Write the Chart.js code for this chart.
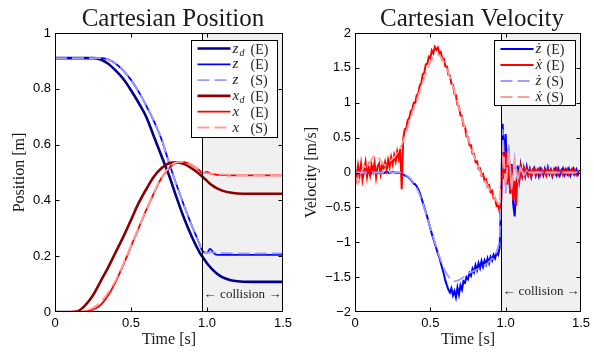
<!DOCTYPE html>
<html><head><meta charset="utf-8">
<script src="https://cdn.jsdelivr.net/npm/chart.js@4.4.1/dist/chart.umd.min.js"></script>
<style>
html,body{margin:0;padding:0;background:#fff;}
#wrap{position:relative;width:594px;height:352px;overflow:hidden;}
canvas{position:absolute;top:0;}
</style></head>
<body><div id="wrap"><canvas id="c1" width="297" height="352" style="left:0"></canvas><canvas id="c2" width="297" height="352" style="left:297px"></canvas></div>
<script>
// ---------- DATA ----------
const collisionT = 0.967;

// Position plot (time in s, position in m)
const tPos = [0,0.05,0.1,0.15,0.2,0.25,0.3,0.35,0.4,0.45,0.5,0.55,0.6,0.65,0.7,0.75,0.8,0.85,0.9,0.95,0.97,1.0,1.02,1.04,1.06,1.1,1.15,1.2,1.3,1.4,1.5];
const zdE = [0.91,0.91,0.91,0.91,0.91,0.91,0.905,0.89,0.865,0.835,0.795,0.75,0.70,0.63,0.56,0.49,0.41,0.335,0.27,0.215,0.198,0.175,0.162,0.15,0.14,0.125,0.115,0.11,0.108,0.108,0.108];
const zE  = [0.91,0.91,0.91,0.91,0.91,0.91,0.91,0.905,0.89,0.865,0.832,0.79,0.74,0.685,0.62,0.535,0.455,0.38,0.31,0.245,0.218,0.212,0.226,0.214,0.206,0.205,0.205,0.205,0.205,0.205,0.205];
const zS  = [0.91,0.91,0.91,0.91,0.91,0.91,0.91,0.905,0.89,0.865,0.832,0.79,0.74,0.685,0.62,0.535,0.455,0.38,0.31,0.245,0.22,0.212,0.213,0.214,0.213,0.212,0.211,0.21,0.21,0.21,0.21];
const xdE = [0,0,0,0.003,0.025,0.06,0.11,0.16,0.215,0.27,0.33,0.39,0.44,0.485,0.515,0.533,0.537,0.53,0.515,0.495,0.485,0.47,0.46,0.452,0.445,0.435,0.428,0.425,0.424,0.424,0.424];
const xE  = [0,0,0,0,0.002,0.008,0.025,0.06,0.11,0.17,0.235,0.30,0.365,0.425,0.48,0.515,0.535,0.537,0.527,0.508,0.498,0.502,0.497,0.494,0.492,0.491,0.49,0.49,0.49,0.49,0.49];
const xS  = [0,0,0,0,0.005,0.015,0.035,0.07,0.115,0.172,0.237,0.302,0.367,0.427,0.482,0.517,0.537,0.538,0.528,0.51,0.5,0.497,0.496,0.495,0.494,0.493,0.492,0.491,0.49,0.49,0.49];

// Velocity plot: experiment sampled every 0.01 s, simulation every 0.02 s
const tVelE = Array.from({length:151},(_,i)=>+(i*0.01).toFixed(2));
const tVelS = Array.from({length:76},(_,i)=>+(i*0.02).toFixed(2));
const dzE = [0,0.01,-0.01,0,0.01,0,-0.01,0.01,0,0, 0.01,-0.01,0,0.01,0,-0.01,0,0.01,0,-0.01, 0,0.01,0,-0.01,0,0.01,0,0,-0.01,0,
 -0.01,-0.02,-0.03,-0.04,-0.05,-0.06,-0.08,-0.10,-0.13,-0.16,
 -0.17,-0.20,-0.24,-0.29,-0.36,-0.43,-0.50,-0.57,-0.64,-0.72,
 -0.80,-0.88,-0.95,-1.02,-1.09,-1.16,-1.22,-1.30,-1.38,-1.46,
 -1.55,-1.62,-1.68,-1.72,-1.66,-1.76,-1.70,-1.79,-1.65,-1.75,
 -1.62,-1.68,-1.56,-1.58,-1.50,-1.53,-1.44,-1.48,-1.38,-1.43,
 -1.33,-1.40,-1.30,-1.37,-1.27,-1.35,-1.26,-1.32,-1.23,-1.30,
 -1.21,-1.26,-1.18,-1.23,-1.15,-1.18,-1.08,
 -0.40,0.70,0.15,0.55,-0.10,0.35,-0.30,0.12,-0.45,-0.63,-0.20,0.10,-0.12,0.10,
 -0.04,0.06,-0.05,0.08,-0.03,0.05,-0.06,0.04,0.07,-0.04, 0.03,-0.05,0.06,0.02,-0.04,0.05,-0.03,0.07,-0.02,0.04,
 -0.05,0.03,0.06,-0.03,0.05,-0.04,0.02,0.06,-0.03,0.04, -0.02,0.05,-0.04,0.03,0.06,-0.02,0.04,-0.03,0.02,0.03];
const dxE = [0.05,-0.08,0.10,-0.05,0.12,-0.10,0.03,0.15,-0.06,0.08, -0.04,0.11,0.02,0.14,-0.07,0.09,0.13,-0.02,0.10,0.06, 0.15,0.04,0.18,0.08,0.22,0.12,0.25,0.16,0.30,0.20,
 0.34,-0.24,0.48,0.62,0.63,0.75,0.78,0.88,0.90,1.00,
 1.00,1.11,1.13,1.25,1.28,1.41,1.43,1.55,1.56,1.66,
 1.64,1.75,1.71,1.80,1.76,1.79,1.71,1.73,1.62,1.63,
 1.52,1.52,1.40,1.39,1.27,1.26,1.13,1.11,0.97,0.95,
 0.82,0.81,0.67,0.66,0.52,0.51,0.39,0.39,0.27,0.27,
 0.15,0.16,0.05,0.06,-0.04,-0.02,-0.12,-0.10,-0.20,-0.18,
 -0.28,-0.26,-0.37,-0.37,-0.48,-0.47,-0.56,-0.40,0.45,-0.10,
 0.30,-0.18,0.15,-0.30,0.10,-0.40,-0.12,-0.48,0.05,-0.12,
 0.08,-0.05,0.06,-0.04,0.05,-0.03,0.04,-0.05,0.03,0.06, -0.04,0.02,0.05,-0.03,0.04,-0.02,0.03,-0.04,0.05,0.00,
 0.03,-0.03,0.04,-0.02,0.05,-0.03,0.02,0.04,-0.03,0.03, -0.02,0.04,-0.03,0.02,0.05,-0.02,0.03,-0.03,0.02,0.01, 0.00];
const dzS = [0,0,0,0,0,0,0,0,0,0,0,0,0,0,0,0,
 -0.02,-0.04,-0.07,-0.12,-0.18,-0.27,-0.38,-0.51,-0.65,-0.79,
 -0.93,-1.07,-1.20,-1.32,-1.42,-1.49,-1.54,-1.56,-1.55,-1.53,
 -1.50,-1.47,-1.44,-1.42,-1.40,-1.38,-1.36,-1.33,-1.30,-1.26,
 -1.21,-1.14,-0.98,0.62,-0.30,0.40,-0.25,0.20,-0.12,0.08,
 -0.05,0.03,-0.01,0,0,0,0,0,0,0,0,0,0,0,0,0,0,0,0,0];
const dxS = [-0.05,-0.15,-0.02,0.10,0.05,0.15,0.22,0.25,0.20,0.15,
 0.10,0.12,0.18,0.22,0.28,0.35,0.45,0.58,0.72,0.86,
 0.98,1.10,1.23,1.36,1.48,1.58,1.66,1.70,1.68,1.62,
 1.53,1.43,1.30,1.16,1.01,0.86,0.71,0.57,0.43,0.30,
 0.18,0.07,-0.03,-0.11,-0.19,-0.27,-0.34,-0.41,-0.47,0.40,
 -0.20,0.30,-0.22,0.15,-0.10,0.06,-0.03,0.02,0,0,
 0,0,0,0,0,0,0,0,0,0,0,0,0,0,0,0];

// Tick values
const posXTicks = [0,0.5,1,1.5];
const posYTicks = [0,0.2,0.4,0.6,0.8,1];
const velYTicks = [-2,-1.5,-1,-0.5,0,0.5,1,1.5,2];

// Legend text pieces
const posLegSym = ['z','z','z','x','x','x'];
const posLegSub = ['d','','','d','',''];
const posLegTag = ['(E)','(E)','(S)','(E)','(E)','(S)'];
const velLegSym = ['\u017C','\u1E8B','\u017C','\u1E8B'];
const velLegTag = ['(E)','(E)','(S)','(S)'];

// ---------- STYLE ----------
const SERIF = '"Liberation Serif", "DejaVu Serif", serif';
const SANS = '"Liberation Sans", Arial, sans-serif';
Chart.defaults.font.family = SANS;
Chart.defaults.color = '#000';

const pts = (t, v) => t.map((x,i)=>({x, y:v[i]}));
const DASH = [12,5];

function decor(o){
  return {
    id: 'decor',
    beforeDatasetsDraw(chart){
      const {ctx, chartArea:ca, scales:{x}} = chart;
      const cx = Math.round(x.getPixelForValue(collisionT));
      ctx.save();
      ctx.fillStyle = '#f0f0f0';
      ctx.fillRect(cx, ca.top, ca.right - cx, ca.bottom - ca.top);
      ctx.restore();
    },
    afterDatasetsDraw(chart){
      const {ctx, chartArea:ca, scales:{x, y}} = chart;
      const L = Math.round(ca.left)+0.5, R = Math.round(ca.right)-0.5, T = Math.round(ca.top)+0.5, B = Math.round(ca.bottom)-0.5;
      const cx = Math.round(x.getPixelForValue(collisionT))+0.5;
      ctx.save();
      ctx.strokeStyle = '#000'; ctx.lineWidth = 1;
      ctx.beginPath(); ctx.moveTo(cx, T); ctx.lineTo(cx, B); ctx.stroke();
      ctx.strokeRect(L, T, R-L, B-T);
      ctx.beginPath();
      x.ticks.forEach(t=>{ const p = Math.round(x.getPixelForValue(t.value))+0.5; if (p<=L+1||p>=R-1) return;
        ctx.moveTo(p,B); ctx.lineTo(p,B-4); ctx.moveTo(p,T); ctx.lineTo(p,T+4); });
      y.ticks.forEach(t=>{ const p = Math.round(y.getPixelForValue(t.value))+0.5; if (p<=T+1||p>=B-1) return;
        ctx.moveTo(L,p); ctx.lineTo(L+4,p); ctx.moveTo(R,p); ctx.lineTo(R-4,p); });
      ctx.stroke();
      // collision label
      ctx.fillStyle = '#222';
      ctx.font = '13px ' + SERIF;
      ctx.textBaseline = 'middle';
      ctx.textAlign = 'center';
      ctx.fillText('collision', (cx + R)/2, o.collY);
      ctx.textAlign = 'left'; ctx.fillText('\u2190', cx+1, o.collY);
      ctx.textAlign = 'right'; ctx.fillText('\u2192', R-1, o.collY);
      // legend
      const bx = Math.round(ca.right - 6 - o.legW)+0.5, by = Math.round(ca.top + 7)+0.5;
      ctx.fillStyle = '#fff';
      ctx.fillRect(bx, by, o.legW, o.legH);
      ctx.strokeStyle = '#000';
      ctx.strokeRect(bx, by, o.legW, o.legH);
      chart.data.datasets.forEach((ds,i)=>{
        const ry = by + o.legRow0 + i*o.legStep;
        ctx.save();
        ctx.strokeStyle = ds.borderColor; ctx.lineWidth = ds.borderWidth;
        ctx.setLineDash(ds.borderDash || []);
        ctx.beginPath(); ctx.moveTo(bx+6, ry); ctx.lineTo(bx+39, ry); ctx.stroke();
        ctx.restore();
        ctx.fillStyle = '#222'; ctx.textAlign = 'left'; ctx.textBaseline = 'alphabetic';
        ctx.font = 'italic 15px ' + SERIF;
        ctx.fillText(o.sym[i], bx+41, ry+4);
        if (o.sub && o.sub[i]) { ctx.font = 'italic 10px ' + SERIF; ctx.fillText(o.sub[i], bx+48, ry+7); }
        ctx.font = '14px ' + SERIF;
        ctx.fillText(o.tag[i], bx+o.tagX, ry+5);
      });
      // title
      ctx.fillStyle = '#1a1a1a';
      ctx.font = '25px ' + SERIF;
      ctx.textAlign = 'center'; ctx.textBaseline = 'alphabetic';
      ctx.fillText(o.title, (ca.left+ca.right)/2 + 4, 26);
      // axis titles
      ctx.font = '16px ' + SERIF;
      ctx.fillText('Time [s]', (ca.left+ca.right)/2, 344);
      ctx.save();
      ctx.translate(o.yLabX, (ca.top+ca.bottom)/2);
      ctx.rotate(-Math.PI/2);
      ctx.textBaseline = 'middle';
      ctx.fillText(o.yLabel, 0, 0);
      ctx.restore();
      ctx.restore();
    }
  };
}

function makeScales(yMin, yMax, yStep, yWidth, fmt){
  return {
    x: { type:'linear', min:0, max:1.5, afterFit:s=>{s.height=40;},
         afterBuildTicks:s=>{s.ticks = posXTicks.map(v=>({value:v}));},
         grid:{display:false, drawTicks:false}, border:{display:false},
         ticks:{padding:4, font:{size:13, family:SANS}, color:'#000', maxRotation:0} },
    y: { type:'linear', min:yMin, max:yMax, afterFit:s=>{s.width=yWidth;},
         ticks:{stepSize:yStep, padding:4, font:{size:13, family:SANS}, color:'#000', callback:fmt},
         grid:{display:false, drawTicks:false}, border:{display:false} }
  };
}

const common = {
  responsive:false, animation:false, devicePixelRatio:1,
  plugins:{legend:{display:false}, tooltip:{enabled:false}, title:{display:false}},
  elements:{point:{radius:0}, line:{fill:false}}
};

// ---------- POSITION CHART ----------
const posSets = [
  {label:'z_d (E)', data:pts(tPos,zdE), borderColor:'#00008b', borderWidth:2.6},
  {label:'z (E)',   data:pts(tPos,zE),  borderColor:'#0000ff', borderWidth:1.8},
  {label:'z (S)',   data:pts(tPos,zS),  borderColor:'#9d9dff', borderWidth:1.8, borderDash:DASH},
  {label:'x_d (E)', data:pts(tPos,xdE), borderColor:'#8b0000', borderWidth:2.6},
  {label:'x (E)',   data:pts(tPos,xE),  borderColor:'#ff0000', borderWidth:1.8},
  {label:'x (S)',   data:pts(tPos,xS),  borderColor:'#ff9d9d', borderWidth:1.8, borderDash:DASH}
].map((d,i,a)=>Object.assign(d,{order:a.length-i, cubicInterpolationMode:'monotone', pointRadius:0}));

new Chart(document.getElementById('c1'), {
  type:'line',
  data:{datasets:posSets},
  options:Object.assign({}, common, {
    layout:{padding:{left:0,right:14,top:33,bottom:0}},
    scales:makeScales(0,1,0.2,55, v=>String(v))
  }),
  plugins:[decor({title:'Cartesian Position', yLabel:'Position [m]', yLabX:20, collY:295,
    legW:86, legH:97, legRow0:8, legStep:15.8, tagX:59, sym:posLegSym, sub:posLegSub, tag:posLegTag})]
});

// ---------- VELOCITY CHART ----------
const velSets = [
  {label:'\u017C (E)', data:pts(tVelE,dzE), borderColor:'#0000ff', borderWidth:2},
  {label:'\u1E8B (E)', data:pts(tVelE,dxE), borderColor:'#ff0000', borderWidth:2},
  {label:'\u017C (S)', data:pts(tVelS,dzS), borderColor:'#9d9dff', borderWidth:1.8, borderDash:DASH},
  {label:'\u1E8B (S)', data:pts(tVelS,dxS), borderColor:'#ff9d9d', borderWidth:1.8, borderDash:DASH}
].map((d,i,a)=>Object.assign(d,{order:a.length-i, tension:0, pointRadius:0}));

new Chart(document.getElementById('c2'), {
  type:'line',
  data:{datasets:velSets},
  options:Object.assign({}, common, {
    layout:{padding:{left:0,right:11,top:33,bottom:0}},
    scales:makeScales(-2,2,0.5,58, v=>String(v).replace('-','\u2212'))
  }),
  plugins:[decor({title:'Cartesian Velocity', yLabel:'Velocity [m/s]', yLabX:15, collY:292,
    legW:81, legH:65, legRow0:8.5, legStep:16, tagX:52, sym:velLegSym, sub:null, tag:velLegTag})]
});
</script>
</body></html>
